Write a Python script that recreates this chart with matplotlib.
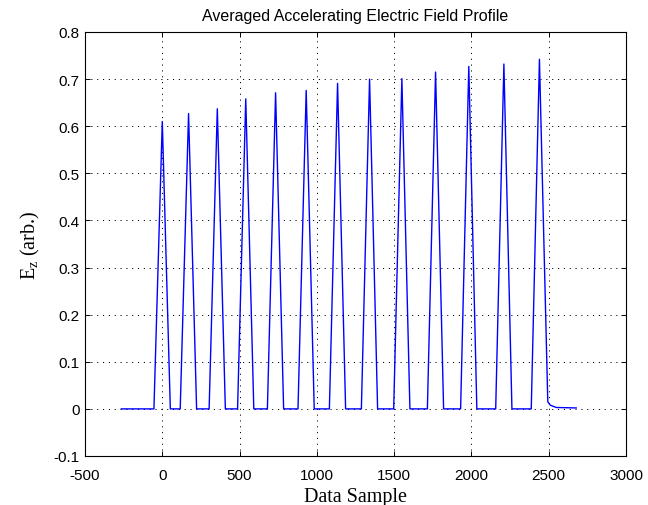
import numpy as np
import matplotlib
matplotlib.use('Agg')
import matplotlib.pyplot as plt

plt.rcParams['font.family'] = ['Liberation Sans', 'DejaVu Sans']
plt.rcParams['mathtext.fontset'] = 'custom'
plt.rcParams['mathtext.rm'] = 'Liberation Serif'
plt.rcParams['mathtext.it'] = 'Liberation Serif:italic'
plt.rcParams['lines.scale_dashes'] = False
plt.rcParams['axes.unicode_minus'] = False

# values
start_x = -265
peak_x = [0, 170, 356, 540, 733, 931, 1134, 1341, 1550, 1768, 1983, 2210, 2440]
peak_y = [0.610, 0.627, 0.637, 0.658, 0.671, 0.676, 0.691, 0.700, 0.701, 0.715, 0.727, 0.732, 0.742]
left_foot = [-54, 116, 303, 487, 680, 878, 1081, 1288, 1497, 1715, 1930, 2157, 2387]
right_foot = [52, 222, 408, 592, 785, 983, 1186, 1393, 1602, 1820, 2035, 2262, 2494]
# little tail after the last pulse
tail_x = [2494, 2510, 2548, 2678]
tail_y = [0.015, 0.008, 0.003, 0.002]

xs = [start_x]
ys = [0.0]
for i in range(len(peak_x)):
    xs += [left_foot[i], peak_x[i]]
    ys += [0.0, peak_y[i]]
    if i < len(peak_x) - 1:
        xs.append(right_foot[i])
        ys.append(0.0)
xs += tail_x
ys += tail_y

fig = plt.figure(figsize=(6.48, 5.06), dpi=100)
ax = fig.add_axes([85/648, 49/506, 541/648, 424/506])
ax.plot(xs, ys, color='#0000ff', linewidth=1.0)

ax.set_xlim(-500, 3000)
ax.set_ylim(-0.1, 0.8)
ax.set_xticks(np.arange(-500, 3001, 500))
ax.set_yticks(np.arange(-0.1, 0.81, 0.1))
ax.set_yticklabels(['-0.1', '0', '0.1', '0.2', '0.3', '0.4', '0.5', '0.6', '0.7', '0.8'])
ax.grid(True, color='black', linestyle=(0, (0.8, 3.4)), linewidth=0.7)
ax.tick_params(direction='in', length=3.6, width=0.7, top=True, right=True,
               labelsize=11, colors='black')
ax.tick_params(axis='x', pad=9)
ax.tick_params(axis='y', pad=4)
for s in ax.spines.values():
    s.set_linewidth(0.8)

ax.set_title('Averaged Accelerating Electric Field Profile', fontsize=11.5, pad=9)
ax.set_xlabel('Data Sample', family='Liberation Serif', fontsize=14.5, labelpad=3)
ax.set_ylabel(r'E$_\mathrm{z}$ (arb.)', family='Liberation Serif', fontsize=14.5, labelpad=8)

fig.savefig('out.png', dpi=100)
